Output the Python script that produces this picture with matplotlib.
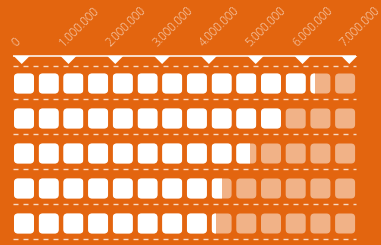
import matplotlib
matplotlib.use("Agg")
import matplotlib.pyplot as plt
from matplotlib.patches import FancyBboxPatch, Rectangle, Polygon
from matplotlib import transforms

# ---- data ----
values = [6125000, 5500000, 4850000, 4250000, 4100000]
unit = 500000          # value of one icon
n_icons = 14
tick_values = [0, 1000000, 2000000, 3000000, 4000000, 5000000, 6000000, 7000000]
tick_labels = ["0", "1.000.000", "2.000.000", "3.000.000", "4.000.000",
               "5.000.000", "6.000.000", "7.000.000"]

# ---- style ----
BG = "#e3650f"
W, H, DPI = 381, 245, 100
plt.rcParams["lines.scale_dashes"] = False

fig = plt.figure(figsize=(W / DPI, H / DPI), dpi=DPI, facecolor=BG)

# icon axes (x in value units, y in row index)
px_per_unit_icon = 24.7            # pixels per icon pitch
row_px = 35.0
first_row_px = 83.5
x0_icon_px = 14.0
sx = px_per_unit_icon / unit       # px per value
ax = fig.add_axes([0, 0, 1, 1])
ax.set_facecolor(BG)
ax.set_xlim(-x0_icon_px / sx, (W - x0_icon_px) / sx)
ax.set_ylim((H - first_row_px) / row_px, -first_row_px / row_px)
ax.axis("off")

# tick axes (same y, different x scale)
tick0_px = 21.7
px_per_val_tick = 46.8 / 1e6
axt = fig.add_axes([0, 0, 1, 1], sharey=ax)
axt.patch.set_alpha(0)
axt.set_xlim(-tick0_px / px_per_val_tick, (W - tick0_px) / px_per_val_tick)
axt.axis("off")

icon_w = 20.0 / sx
icon_h = 20.0 / row_px
rad = 4.0 / sx
aspect = (1 / row_px) / (1 / sx)

span_l = -1.0 / sx
span_r = (n_icons - 1) * unit + icon_w + 1.0 / sx

# header line and triangles
line_y = -27.5 / row_px
tip_y = -19.5 / row_px
ax.plot([span_l, span_r], [line_y, line_y], color="white", lw=1.1,
        solid_capstyle="butt")
half = 8.0 / px_per_val_tick
for v in tick_values:
    axt.add_patch(Polygon([(v - half, line_y), (v + half, line_y), (v, tip_y)],
                          closed=True, facecolor="white", edgecolor="none"))

# tick labels
lab_y = -36.5 / row_px
off = transforms.offset_copy(axt.transData, fig=fig, x=-5 * 72 / DPI, y=0, units="points")
for v, t in zip(tick_values, tick_labels):
    axt.text(v, lab_y, t, transform=off, rotation=45, rotation_mode="anchor",
             ha="left", va="baseline", fontsize=8.3, color="white", alpha=0.75,
             family=["Open Sans", "DejaVu Sans"], fontweight="light")

# dashed separators
dash = dict(color="white", alpha=0.75, lw=1.0, dashes=(3.6, 3.6))
ax.plot([span_l, span_r], [-17.8 / row_px, -17.8 / row_px], **dash)
for r in range(len(values)):
    yd = r + 15.0 / row_px
    ax.plot([span_l, span_r], [yd, yd], **dash)

# icons
for r, val in enumerate(values):
    yb = r - icon_h / 2
    for i in range(n_icons):
        x = i * unit
        base = FancyBboxPatch((x, yb), icon_w, icon_h,
                              boxstyle=f"round,pad=0,rounding_size={rad}",
                              mutation_aspect=aspect,
                              facecolor="white", alpha=0.5, edgecolor="none")
        ax.add_patch(base)
        frac = min(max((val - i * unit) / unit, 0), 1)
        if frac > 0:
            top = FancyBboxPatch((x, yb), icon_w, icon_h,
                                 boxstyle=f"round,pad=0,rounding_size={rad}",
                                 mutation_aspect=aspect,
                                 facecolor="white", edgecolor="none")
            ax.add_patch(top)
            clip = Rectangle((x, yb - 0.1), icon_w * frac, icon_h + 0.2,
                             transform=ax.transData)
            top.set_clip_path(clip)

fig.savefig("out.png", dpi=DPI, facecolor=BG)
